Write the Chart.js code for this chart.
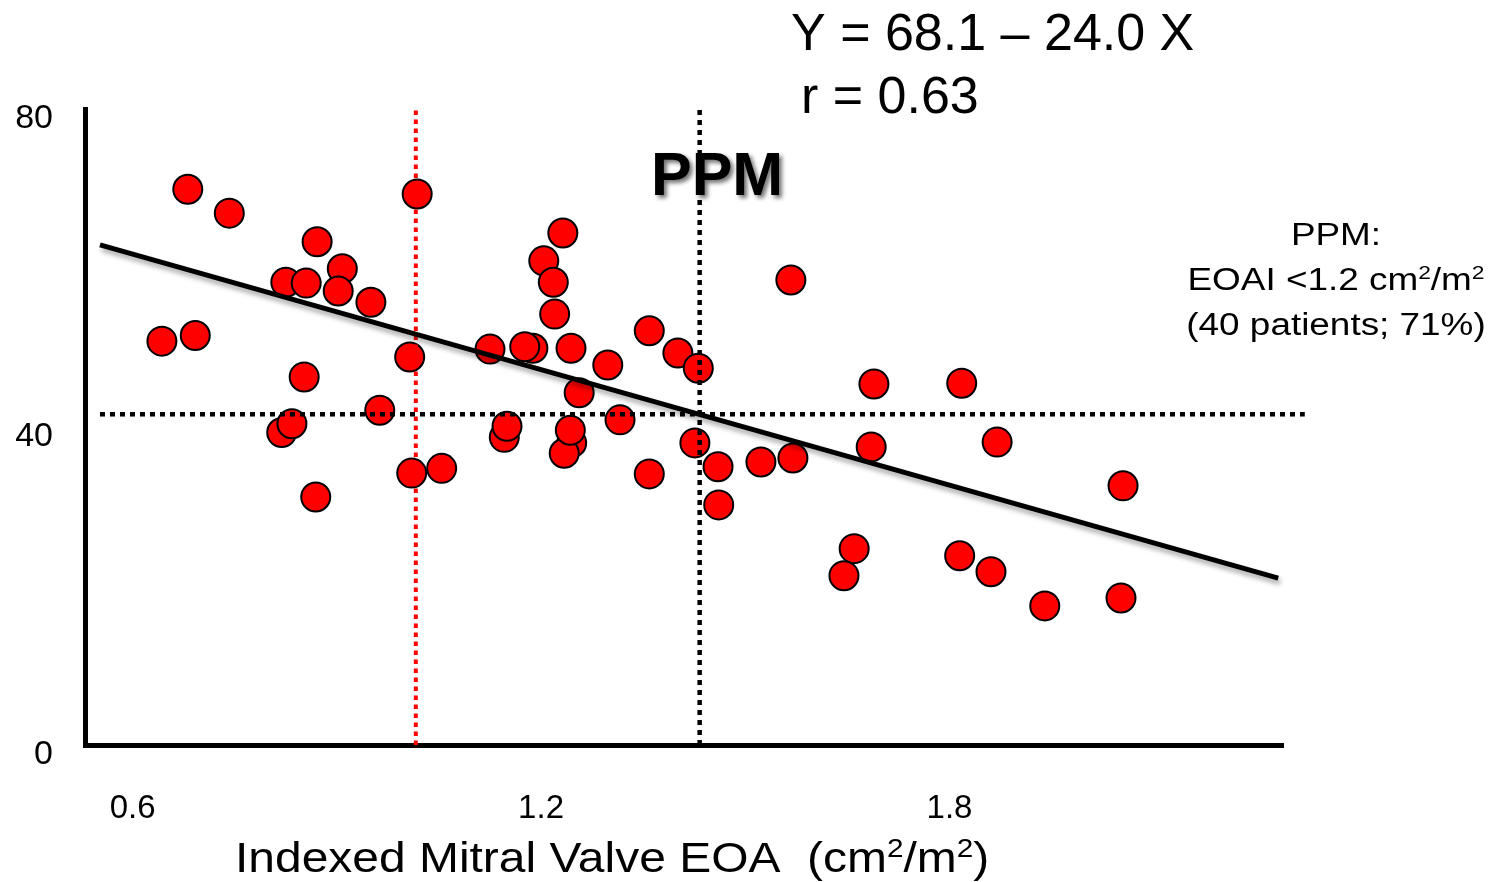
<!DOCTYPE html>
<html>
<head>
<meta charset="utf-8">
<script src="https://cdn.jsdelivr.net/npm/chart.js@4.4.1/dist/chart.umd.min.js"></script>
<style>
  html, body { margin: 0; padding: 0; background: #ffffff; }
  #wrap { position: relative; width: 1502px; height: 882px; }
</style>
</head>
<body>
<div id="wrap"><canvas id="chart"></canvas></div>
<script>
// ---- Data ----
const eoaIndex = [
  0.681, 0.742, 1.018, 0.871, 0.908, 0.825, 0.855, 0.902, 0.950, 0.643,
  0.692, 1.007, 0.852, 0.963, 0.819, 0.834, 1.054, 1.010, 0.869, 1.232,
  1.204, 1.218, 1.220, 1.125, 1.188, 1.176, 1.244, 1.359, 1.401, 1.431,
  1.298, 1.256, 1.146, 1.150, 1.245, 1.234, 1.243, 1.316, 1.426, 1.460,
  1.461, 1.359, 1.523, 1.567, 1.689, 1.818, 1.870, 1.685, 1.570, 1.660,
  1.645, 1.815, 1.861, 1.940, 2.052, 2.055
];
const pressure = [
  69.9, 66.9, 69.3, 63.3, 59.9, 58.2, 58.1, 57.1, 55.7, 50.8,
  51.5, 48.8, 46.3, 42.1, 39.3, 40.4, 34.8, 34.2, 31.2, 64.4,
  60.9, 58.2, 54.2, 49.8, 49.9, 50.1, 49.9, 52.1, 49.3, 47.4,
  47.8, 44.3, 38.7, 40.1, 38.0, 36.7, 39.6, 40.9, 38.0, 35.0,
  30.2, 34.1, 35.6, 58.5, 45.4, 45.5, 38.1, 37.5, 36.1, 24.7,
  21.3, 23.8, 21.8, 17.5, 18.5, 32.6
];

// regression line as drawn (end points)
const fitLineX = [0.552, 2.283];
const fitLineY = [62.9, 21.0];
// PPM cut-off (red dotted), reference vertical (black dotted), horizontal reference
const ppmCutX = [1.016, 1.016];
const ppmCutY = [0, 80];
const refVertX = [1.433, 1.433];
const refVertY = [0, 80];
const refHorzX = [0.552, 2.322];
const refHorzY = [41.6, 41.6];

// axes
const xMin = 0.53, xMax = 2.29;
const yMin = 0, yMax = 80;
const xTickValues = [0.6, 1.2, 1.8];
const xTickLabels = ['0.6', '1.2', '1.8'];
const yTickValues = [0, 40, 80];
const yTickLabels = ['0', '40', '80'];

// texts
const equationText = 'Y = 68.1 \u2013 24.0 X';
const corrText = 'r = 0.63';
const ppmText = 'PPM';
const noteLines = [
  [{ t: 'PPM:' }],
  [{ t: 'EOAI <1.2 cm' }, { t: '2', sup: true }, { t: '/m' }, { t: '2', sup: true }],
  [{ t: '(40 patients; 71%)' }]
];
const xTitleSegs = [{ t: 'Indexed Mitral Valve EOA  (cm' }, { t: '2', sup: true }, { t: '/m' }, { t: '2', sup: true }, { t: ')' }];

const FONT = '"Liberation Sans", Arial, Helvetica, sans-serif';

function toPts(xs, ys) { return xs.map((x, i) => ({ x: x, y: ys[i] })); }

function drawRich(ctx, segs, x, y, size, weight, stretch, align) {
  ctx.save();
  let total = 0;
  const parts = segs.map(s => {
    const fs = s.sup ? size * 0.62 : size;
    ctx.font = `${weight} ${fs}px ${FONT}`;
    const w = ctx.measureText(s.t).width;
    total += w;
    return { t: s.t, fs: fs, w: w, sup: !!s.sup };
  });
  ctx.translate(x, y);
  ctx.scale(stretch, 1);
  let cx = align === 'center' ? -total / 2 : 0;
  ctx.textAlign = 'left';
  ctx.textBaseline = 'alphabetic';
  ctx.fillStyle = '#000000';
  for (const p of parts) {
    ctx.font = `${weight} ${p.fs}px ${FONT}`;
    ctx.fillText(p.t, cx, p.sup ? -size * 0.36 : 0);
    cx += p.w;
  }
  ctx.restore();
}

const annotationPlugin = {
  id: 'annotations',
  beforeDatasetDraw(chart, args) {
    if (args.index === 0) {
      const ctx = chart.ctx;
      ctx.save();
      ctx.shadowColor = 'rgba(0,0,0,0.35)';
      ctx.shadowBlur = 5;
      ctx.shadowOffsetX = 2;
      ctx.shadowOffsetY = 4;
    }
  },
  afterDatasetDraw(chart, args) {
    if (args.index === 0) chart.ctx.restore();
  },
  afterDraw(chart) {
    const ctx = chart.ctx;
    drawRich(ctx, [{ t: equationText }], 791, 50, 52, 'normal', 1, 'left');
    drawRich(ctx, [{ t: corrText }], 801, 113, 52, 'normal', 1, 'left');
    // PPM with soft shadow
    ctx.save();
    ctx.shadowColor = 'rgba(0,0,0,0.55)';
    ctx.shadowBlur = 4;
    ctx.shadowOffsetX = 3;
    ctx.shadowOffsetY = 3;
    drawRich(ctx, [{ t: ppmText }], 651, 195, 61, 'bold', 1, 'left');
    ctx.restore();
    // right note
    const baseYs = [245, 290, 335];
    noteLines.forEach((segs, i) => drawRich(ctx, segs, 1336, baseYs[i], 31, 'normal', 1.19, 'center'));
    // x-axis title
    drawRich(ctx, xTitleSegs, 235, 872, 43, 'normal', 1.115, 'left');
  }
};

const dotted = [5, 5];

new Chart(document.getElementById('chart'), {
  type: 'scatter',
  data: {
    datasets: [
      {
        label: 'fit',
        data: toPts(fitLineX, fitLineY),
        showLine: true,
        borderColor: '#000000',
        borderWidth: 5,
        pointRadius: 0,
        clip: false
      },
      {
        label: 'horizontal reference',
        data: toPts(refHorzX, refHorzY),
        showLine: true,
        borderColor: '#000000',
        borderWidth: 4.5,
        borderDash: dotted,
        pointRadius: 0,
        clip: false
      },
      {
        label: 'PPM cut-off',
        data: toPts(ppmCutX, ppmCutY),
        showLine: true,
        borderColor: '#ff0000',
        borderWidth: 4,
        borderDash: [4.5, 4.5],
        pointRadius: 0,
        clip: false
      },
      {
        label: 'vertical reference',
        data: toPts(refVertX, refVertY),
        showLine: true,
        borderColor: '#000000',
        borderWidth: 4.5,
        borderDash: dotted,
        pointRadius: 0,
        clip: false
      },
      {
        label: 'patients',
        data: toPts(eoaIndex, pressure),
        backgroundColor: '#ff0000',
        borderColor: '#000000',
        borderWidth: 2,
        pointRadius: 14.5,
        pointHoverRadius: 14.5
      }
    ]
  },
  options: {
    responsive: true,
    maintainAspectRatio: false,
    animation: false,
    devicePixelRatio: 1,
    layout: { padding: { left: 0, right: 219, top: 109, bottom: 0 } },
    plugins: {
      legend: { display: false },
      tooltip: { enabled: false },
      title: { display: false }
    },
    scales: {
      x: {
        type: 'linear',
        min: xMin,
        max: xMax,
        grid: { display: false, drawTicks: false },
        border: { display: true, color: '#000000', width: 5 },
        afterBuildTicks: (scale) => { scale.ticks = xTickValues.map(v => ({ value: v })); },
        afterFit: (scale) => { scale.height = 137; },
        ticks: {
          padding: 44,
          color: '#000000',
          font: { family: FONT, size: 33 },
          maxRotation: 0,
          autoSkip: false,
          callback: (v, i) => xTickLabels[i]
        }
      },
      y: {
        type: 'linear',
        min: yMin,
        max: yMax,
        grid: { display: false, drawTicks: false },
        border: { display: true, color: '#000000', width: 5 },
        afterBuildTicks: (scale) => { scale.ticks = yTickValues.map(v => ({ value: v })); },
        afterFit: (scale) => { scale.width = 85; },
        ticks: {
          padding: 32,
          labelOffset: 10,
          color: '#000000',
          font: { family: FONT, size: 34 },
          autoSkip: false,
          callback: (v, i) => yTickLabels[i]
        }
      }
    }
  },
  plugins: [annotationPlugin]
});
</script>
</body>
</html>
